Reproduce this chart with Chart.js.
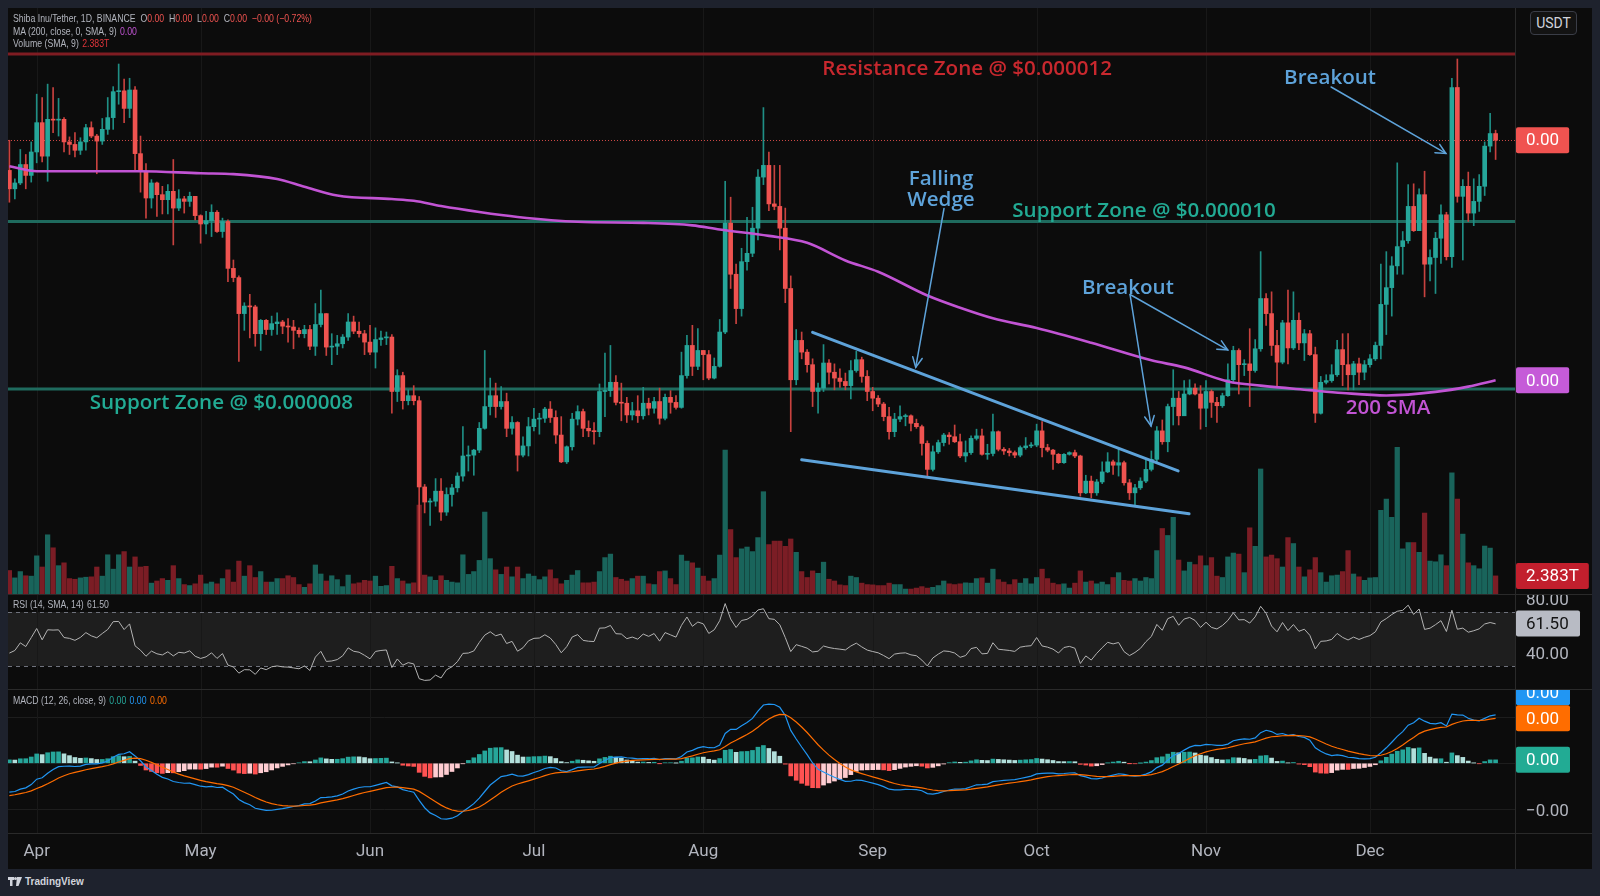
<!DOCTYPE html>
<html>
<head>
<meta charset="utf-8">
<title>Shiba Inu / Tether 1D</title>
<script src="https://cdn.jsdelivr.net/npm/chart.js@4.4.1/dist/chart.umd.min.js"></script>
<style>
  html, body { margin:0; padding:0; width:1600px; height:896px; overflow:hidden; background:#1e222d; }
  #panel { position:absolute; left:8px; top:8px; width:1584px; height:861px; background:#0c0c0c; overflow:hidden; }
  canvas { position:absolute; left:0; }
  .sep { position:absolute; left:0; width:1584px; height:1px; background:#2a2a2a; }
  .vsep { position:absolute; top:0; left:1507px; width:1px; height:861px; background:#2a2a2a; }
  .leg { position:absolute; left:5px; font-family:"Liberation Sans","Roboto",sans-serif; font-size:10.5px; color:#b2b5be; white-space:nowrap; line-height:12px; transform:scaleX(0.83); transform-origin:0 50%; }
  .leg .v { margin-left:4px; }
  #usdt { position:absolute; left:1522px; top:3px; width:45px; height:22px; border:1px solid #3a3d47; border-radius:4px; background:#131313; color:#d1d4dc; font:14px "Roboto",sans-serif; text-align:center; line-height:22px; }
  #footer { position:absolute; left:8px; top:876px; color:#d1d4dc; font:bold 10px "Liberation Sans","Roboto",sans-serif; display:flex; align-items:center; gap:3px; }
</style>
</head>
<body>
<div id="panel">
  <canvas id="cMain" width="1584" height="586" style="top:0"></canvas>
  <div class="sep" style="top:586px"></div>
  <canvas id="cRsi" width="1584" height="94" style="top:587px"></canvas>
  <div class="sep" style="top:681px"></div>
  <canvas id="cMacd" width="1584" height="179" style="top:682px"></canvas>
  <div class="sep" style="top:825px"></div>
  <div class="vsep"></div>

  <div class="leg" style="top:4px">Shiba Inu/Tether, 1D, BINANCE&nbsp; O<span style="color:#ef5350">0.00</span>&nbsp; H<span style="color:#ef5350">0.00</span>&nbsp; L<span style="color:#ef5350">0.00</span>&nbsp; C<span style="color:#ef5350">0.00</span>&nbsp; <span style="color:#ef5350">−0.00 (−0.72%)</span></div>
  <div class="leg" style="top:17px">MA (200, close, 0, SMA, 9)<span class="v" style="color:#c254d4">0.00</span></div>
  <div class="leg" style="top:29px">Volume (SMA, 9)<span class="v" style="color:#e0353b">2.383T</span></div>
  <div class="leg" style="top:590px">RSI (14, SMA, 14)<span class="v" id="rsiVal">61.50</span></div>
  <div class="leg" style="top:686px">MACD (12, 26, close, 9)<span class="v" style="color:#26a69a">0.00</span><span class="v" style="color:#2196f3">0.00</span><span class="v" style="color:#ff6d00">0.00</span></div>
  <div id="usdt">USDT</div>
</div>
<div id="footer">
  <svg width="14" height="9" viewBox="0 0 14 9"><rect x="0" y="0" width="6" height="3" fill="#d1d4dc"/><rect x="2" y="0" width="2.5" height="9" fill="#d1d4dc"/><circle cx="7.5" cy="1.6" r="1.5" fill="#d1d4dc"/><polygon points="9,0 14,0 10.5,9 8,9" fill="#d1d4dc"/></svg>
  <span>TradingView</span>
</div>

<script>
// ---------------- DATA (prices in millionths of USDT: 10.0 = $0.000010) ----------------
const firstOpen = 10.61;
const close = [
  10.39, 10.46, 10.68, 10.55, 10.83, 11.18, 10.78, 11.22, 11.21, 11.22,
  10.95, 10.92, 10.85, 10.95, 11.12, 11.02, 10.96, 11.10, 11.24, 11.55,
  11.56, 11.35, 11.57, 10.81, 10.60, 10.28, 10.46, 10.32, 10.26, 10.36,
  10.16, 10.27, 10.24, 10.30, 10.07, 9.97, 10.01, 10.11, 9.88, 10.00,
  9.44, 9.33, 8.90, 8.99, 8.98, 8.66, 8.82, 8.71, 8.78, 8.80,
  8.75, 8.74, 8.70, 8.66, 8.71, 8.51, 8.77, 8.90, 8.50, 8.51,
  8.54, 8.62, 8.80, 8.69, 8.66, 8.56, 8.44, 8.59, 8.61, 8.62,
  7.97, 8.16, 7.86, 7.92, 7.86, 6.83, 6.65, 6.66, 6.78, 6.53,
  6.74, 6.82, 6.96, 7.20, 7.21, 7.27, 7.53, 7.79, 7.92, 7.79,
  7.85, 7.53, 7.60, 7.21, 7.32, 7.55, 7.64, 7.65, 7.76, 7.66,
  7.45, 7.13, 7.31, 7.64, 7.73, 7.53, 7.50, 7.49, 7.97, 7.98,
  8.08, 7.84, 7.83, 7.69, 7.74, 7.68, 7.83, 7.77, 7.85, 7.65,
  7.90, 7.84, 7.78, 8.16, 8.52, 8.27, 8.46, 8.41, 8.13, 8.27,
  8.68, 9.98, 9.37, 8.96, 9.52, 9.62, 9.92, 10.53, 10.67, 10.21,
  10.18, 9.92, 9.20, 8.11, 8.58, 8.44, 8.29, 7.97, 8.01, 8.31,
  8.20, 8.13, 8.09, 8.04, 8.22, 8.35, 8.15, 7.97, 7.89, 7.82,
  7.67, 7.49, 7.64, 7.67, 7.68, 7.59, 7.55, 7.35, 7.04, 7.25,
  7.36, 7.45, 7.43, 7.37, 7.20, 7.24, 7.41, 7.44, 7.22, 7.23,
  7.49, 7.28, 7.26, 7.24, 7.21, 7.30, 7.32, 7.33, 7.50, 7.30,
  7.27, 7.22, 7.12, 7.22, 7.24, 7.20, 6.76, 6.90, 6.76, 6.89,
  7.01, 7.13, 7.09, 7.12, 6.88, 6.76, 6.82, 6.90, 7.04, 7.16,
  7.50, 7.37, 7.79, 7.89, 7.68, 7.94, 8.01, 7.94, 7.77, 7.97,
  7.84, 7.80, 7.92, 8.11, 8.46, 8.29, 8.30, 8.22, 8.48, 9.08,
  8.90, 8.52, 8.32, 8.79, 8.49, 8.82, 8.55, 8.66, 8.41, 7.71,
  8.08, 8.10, 8.17, 8.47, 8.29, 8.17, 8.30, 8.20, 8.29, 8.36,
  8.52, 9.01, 9.21, 9.47, 9.70, 9.77, 10.18, 9.89, 10.32, 9.49,
  9.57, 9.80, 10.08, 9.58, 11.60, 10.30, 10.42, 10.10, 10.24, 10.42,
  10.90, 11.05, 10.97
];
const high = [
  10.97, 10.51, 10.86, 10.80, 10.95, 11.52, 11.48, 11.64, 11.60, 11.47,
  11.24, 11.01, 11.06, 11.00, 11.16, 11.19, 11.04, 11.23, 11.48, 11.61,
  11.88, 11.70, 11.71, 11.61, 11.02, 10.69, 10.50, 10.47, 10.42, 10.44,
  10.74, 10.38, 10.30, 10.35, 10.30, 10.08, 10.12, 10.20, 10.13, 10.04,
  10.02, 9.54, 9.35, 9.03, 9.13, 9.00, 8.83, 8.83, 8.87, 8.91,
  8.82, 8.84, 8.82, 8.73, 8.76, 8.76, 9.02, 9.18, 8.90, 8.66,
  8.64, 8.65, 8.90, 8.87, 8.80, 8.70, 8.76, 8.73, 8.69, 8.68,
  8.65, 8.23, 8.20, 7.99, 8.04, 7.91, 6.86, 6.69, 6.93, 6.93,
  6.82, 6.86, 7.00, 7.55, 7.32, 7.28, 7.60, 8.46, 8.13, 8.07,
  8.03, 7.95, 7.67, 7.61, 7.43, 7.66, 7.77, 7.71, 7.78, 7.85,
  7.74, 7.67, 7.32, 7.71, 7.80, 7.76, 7.62, 7.60, 8.06, 8.43,
  8.52, 8.16, 8.07, 7.90, 7.84, 7.92, 8.02, 7.89, 7.90, 8.01,
  7.94, 7.98, 7.92, 8.44, 8.64, 8.76, 8.72, 8.46, 8.46, 8.37,
  8.83, 10.48, 10.29, 9.49, 9.68, 10.05, 10.17, 10.62, 11.36, 10.83,
  10.67, 10.67, 10.16, 9.35, 8.71, 8.68, 8.47, 8.36, 8.07, 8.53,
  8.35, 8.30, 8.24, 8.19, 8.34, 8.45, 8.38, 8.22, 8.02, 7.92,
  7.84, 7.78, 7.71, 7.80, 7.70, 7.69, 7.64, 7.57, 7.38, 7.32,
  7.39, 7.47, 7.48, 7.57, 7.46, 7.38, 7.44, 7.52, 7.52, 7.34,
  7.70, 7.50, 7.30, 7.29, 7.26, 7.32, 7.42, 7.36, 7.58, 7.61,
  7.34, 7.28, 7.23, 7.23, 7.25, 7.27, 7.21, 6.97, 6.96, 6.92,
  7.13, 7.24, 7.15, 7.29, 7.14, 6.92, 6.86, 6.94, 7.15, 7.26,
  7.55, 7.63, 7.82, 8.23, 7.97, 8.10, 8.11, 8.06, 8.04, 8.10,
  7.99, 7.90, 7.95, 8.30, 8.51, 8.48, 8.35, 8.72, 8.59, 9.64,
  9.14, 9.16, 8.70, 8.82, 9.18, 9.16, 8.91, 8.71, 8.70, 8.50,
  8.15, 8.17, 8.29, 8.58, 8.66, 8.66, 8.33, 8.37, 8.34, 8.41,
  8.56, 9.49, 9.64, 9.58, 10.70, 9.88, 10.44, 10.45, 10.39, 10.60,
  9.66, 9.87, 10.20, 10.11, 11.71, 11.94, 10.50, 10.59, 10.51, 10.56,
  10.95, 11.29, 11.09
];
const low = [
  10.23, 10.27, 10.44, 10.39, 10.47, 10.70, 10.71, 10.48, 11.06, 11.02,
  10.83, 10.80, 10.77, 10.80, 10.85, 11.00, 10.57, 10.92, 11.04, 11.10,
  11.40, 11.18, 11.24, 10.62, 10.35, 10.04, 10.16, 10.06, 10.09, 10.09,
  9.72, 10.13, 10.10, 10.18, 10.02, 9.74, 9.85, 9.82, 9.87, 9.81,
  9.28, 9.28, 8.33, 8.70, 8.61, 8.51, 8.46, 8.65, 8.64, 8.65,
  8.66, 8.56, 8.48, 8.62, 8.61, 8.47, 8.40, 8.74, 8.40, 8.29,
  8.41, 8.49, 8.58, 8.66, 8.62, 8.41, 8.41, 8.25, 8.52, 8.53,
  7.71, 7.85, 7.76, 7.81, 7.81, 5.58, 6.52, 6.37, 6.60, 6.43,
  6.49, 6.60, 6.77, 6.90, 7.02, 6.97, 7.24, 7.52, 7.69, 7.66,
  7.76, 7.43, 7.46, 7.02, 7.19, 7.20, 7.50, 7.46, 7.60, 7.60,
  7.35, 7.12, 7.11, 7.27, 7.57, 7.43, 7.43, 7.34, 7.43, 7.67,
  7.91, 7.81, 7.62, 7.60, 7.63, 7.60, 7.64, 7.69, 7.71, 7.58,
  7.63, 7.71, 7.76, 7.77, 8.13, 8.16, 8.23, 8.11, 8.11, 8.12,
  8.26, 8.66, 9.20, 8.78, 8.87, 9.42, 9.58, 9.78, 10.44, 10.13,
  10.14, 9.66, 9.03, 7.49, 8.05, 8.36, 8.20, 7.79, 7.71, 7.97,
  8.06, 7.99, 8.02, 7.99, 7.88, 8.20, 8.08, 7.86, 7.74, 7.79,
  7.62, 7.40, 7.43, 7.61, 7.56, 7.50, 7.53, 7.21, 6.96, 7.02,
  7.23, 7.32, 7.34, 7.36, 7.18, 7.13, 7.22, 7.39, 7.21, 7.16,
  7.20, 7.26, 7.22, 7.20, 7.18, 7.19, 7.28, 7.30, 7.31, 7.19,
  7.25, 7.04, 7.11, 7.11, 7.21, 7.18, 6.72, 6.75, 6.70, 6.73,
  6.87, 7.00, 6.98, 6.96, 6.85, 6.68, 6.61, 6.80, 6.88, 7.02,
  7.11, 7.34, 7.25, 7.57, 7.57, 7.68, 7.93, 7.93, 7.52, 7.55,
  7.66, 7.60, 7.78, 7.91, 8.08, 7.94, 8.16, 7.79, 8.20, 8.45,
  8.76, 8.40, 8.02, 8.30, 8.30, 8.47, 8.47, 8.34, 8.40, 7.60,
  7.70, 8.06, 8.08, 8.15, 8.04, 7.99, 7.99, 8.05, 8.11, 8.26,
  8.34, 8.36, 8.65, 8.87, 9.37, 9.37, 9.74, 9.88, 9.89, 9.10,
  9.29, 9.14, 9.50, 9.54, 9.45, 10.23, 9.54, 10.00, 9.95, 10.12,
  10.31, 10.83, 10.74
];
// volume in trillions of SHIB
const volume = [
  3.09, 2.12, 2.95, 2.40, 2.35, 5.02, 3.55, 7.79, 6.08, 3.73,
  4.10, 2.03, 1.94, 2.12, 2.21, 2.26, 3.55, 2.35, 5.16, 3.27,
  5.16, 5.58, 3.55, 4.88, 3.55, 3.64, 1.43, 1.71, 2.03, 1.80,
  3.73, 2.03, 1.24, 1.11, 1.34, 2.49, 1.34, 1.57, 1.34, 2.03,
  3.18, 1.57, 4.33, 2.35, 3.73, 2.17, 2.95, 1.57, 1.57, 2.03,
  2.03, 2.40, 2.17, 1.24, 0.88, 1.34, 3.82, 2.63, 1.71, 2.40,
  1.89, 0.97, 2.49, 1.34, 1.47, 1.80, 1.71, 2.35, 1.01, 1.11,
  3.64, 2.03, 1.71, 1.34, 1.47, 11.70, 2.49, 2.26, 1.80, 2.40,
  1.80, 1.57, 1.47, 5.16, 2.58, 2.95, 4.42, 10.78, 4.65, 3.18,
  2.58, 3.55, 2.26, 3.55, 2.03, 2.63, 2.35, 1.89, 2.26, 3.18,
  2.03, 1.34, 1.80, 2.49, 3.09, 1.47, 1.47, 1.57, 2.95, 4.79,
  5.25, 2.17, 1.94, 1.71, 2.03, 2.35, 2.35, 1.34, 1.24, 2.95,
  3.04, 2.03, 1.24, 5.12, 4.33, 4.10, 3.41, 2.35, 1.71, 2.03,
  5.12, 18.94, 8.48, 4.79, 5.94, 6.18, 5.58, 7.42, 13.46, 6.50,
  6.96, 6.96, 6.27, 7.24, 5.48, 2.95, 2.17, 3.04, 2.72, 4.19,
  1.94, 1.71, 1.20, 1.11, 2.35, 2.17, 1.43, 1.24, 1.20, 1.11,
  1.11, 1.43, 1.24, 1.24, 0.65, 0.65, 0.78, 0.97, 0.78, 0.88,
  1.11, 1.71, 1.34, 1.24, 1.34, 1.47, 1.43, 2.03, 2.12, 1.43,
  3.27, 1.89, 1.57, 1.24, 1.89, 1.43, 2.03, 1.34, 2.17, 3.27,
  2.03, 1.43, 1.24, 1.34, 0.78, 1.43, 3.04, 1.57, 1.71, 1.34,
  1.57, 1.24, 2.17, 2.81, 1.80, 1.71, 2.03, 1.71, 2.17, 2.03,
  5.71, 8.62, 7.70, 10.09, 4.47, 3.04, 4.19, 3.87, 5.02, 3.73,
  4.79, 2.35, 2.17, 4.88, 5.39, 5.25, 2.81, 8.71, 6.27, 16.45,
  4.88, 5.12, 4.65, 3.55, 7.42, 6.64, 3.55, 2.26, 3.18, 4.79,
  2.81, 1.57, 2.40, 2.49, 2.95, 5.71, 2.63, 2.26, 1.80, 2.12,
  2.17, 11.01, 12.49, 10.09, 19.31, 5.94, 6.77, 6.77, 5.48, 10.65,
  4.33, 4.24, 5.16, 3.73, 15.94, 12.49, 7.88, 4.10, 3.73, 3.32,
  6.31, 6.04, 2.383
];
// 200-day SMA: [bar index, value]
const ma200 = [
  [0,10.66],[5,10.60],[17,10.60],[24,10.60],[35,10.575],[41,10.565],[49,10.507],[54,10.415],
  [60,10.31],[70,10.268],[74,10.247],[79,10.184],[86,10.113],[93,10.054],[104,9.996],[116,9.983],
  [125,9.954],[130,9.904],[139,9.828],[146,9.745],[153,9.535],[159,9.40],[168,9.116],[174,8.97],
  [180,8.844],[188,8.727],[198,8.551],[209,8.342],[215,8.258],[223,8.09],[229,8.04],[238,7.986],
  [244,7.952],[252,7.923],[261,7.965],[267,8.028],[272,8.103]
];
// bar index of the first day of each month (bar 0 = 27 Mar 2023)
const monthIdx = [5, 35, 66, 96, 127, 158, 188, 219, 249];
const monthLabels = ['Apr', 'May', 'Jun', 'Jul', 'Aug', 'Sep', 'Oct', 'Nov', 'Dec'];
// indicator state before the first visible bar
const rsiSeed = [0.07, 0.09];          // avg gain, avg loss
const macdSeed = [10.72, 11.03, -0.36]; // EMA12, EMA26, signal
const rsiLast = 61.50;
// drawn annotations, in (bar index, price) units
const zoneLevels = [12, 10, 8];
const wedgeUpper = [[147.0, 8.676], [213.9, 7.022]];
const wedgeLower = [[145.0, 7.156], [215.9, 6.511]];
const arrows = [
  [[171.05, 10.155], [165.87, 8.258]],
  [[205.1, 9.128], [208.94, 7.558]],
  [[205.1, 9.128], [222.97, 8.467]],
  [[241.9, 11.606], [262.9, 10.812]]
];
const notes = [
  {t:'Resistance Zone @ $0.000012', x:175.3, y:11.845, c:'#c8282e'},
  {t:'Support Zone @ $0.000010', x:207.65, y:10.149, c:'#22ab94'},
  {t:'Support Zone @ $0.000008', x:38.8, y:7.857, c:'#22ab94'},
  {t:'Falling', x:170.5, y:10.531, c:'#5ea3da'},
  {t:'Wedge', x:170.5, y:10.281, c:'#5ea3da'},
  {t:'Breakout', x:204.7, y:9.23, c:'#5ea3da'},
  {t:'Breakout', x:241.7, y:11.731, c:'#5ea3da'},
  {t:'200 SMA', x:252.3, y:7.797, c:'#c254d4'}
];

// ---------------- layout constants ----------------
const X_MIN = -0.2526, X_MAX = 275.55;
const Y_MIN = 5.552, Y_MAX = 12.549;
const VOL_MAX = 77.1;
const RSI_MIN = 12.96, RSI_MAX = 82.59;
const MACD_MIN = -0.758, MACD_MAX = 0.797;
const AXIS_W = 77;
const FONT = '"Roboto","Noto Sans",sans-serif';

// ---------------- derived series ----------------
const open = close.map((c, i) => i === 0 ? firstOpen : close[i - 1]);
const isUp = close.map((c, i) => c >= open[i]);

const rsi = [];
(function () {
  let g = rsiSeed[0], l = rsiSeed[1], prev = firstOpen;
  close.forEach(c => {
    const d = c - prev; prev = c;
    g = (g * 13 + Math.max(d, 0)) / 14;
    l = (l * 13 + Math.max(-d, 0)) / 14;
    rsi.push(100 - 100 / (1 + g / l));
  });
})();
const macd = [], signal = [], hist = [];
(function () {
  let ef = macdSeed[0], es = macdSeed[1], sg = macdSeed[2];
  close.forEach(c => {
    ef += (2 / 13) * (c - ef);
    es += (2 / 27) * (c - es);
    const m = ef - es;
    sg += (2 / 10) * (m - sg);
    macd.push(m); signal.push(sg); hist.push(m - sg);
  });
})();
const histColors = hist.map((h, i) => {
  const p = i ? hist[i - 1] : h;
  if (h >= 0) return h >= p ? '#26a69a' : '#b2dfdb';
  return h < p ? '#ff5252' : '#ffcdd2';
});

// ---------------- helpers ----------------
const fmtPrice = v => (v * 1e-6).toFixed(2).replace('-', '−');
function noPad(s) { s.paddingTop = 0; s.paddingBottom = 0; s.paddingLeft = 0; s.paddingRight = 0; }
function xScale(display) {
  return { type: 'linear', min: X_MIN, max: X_MAX, display: display, offset: false, afterFit: noPad };
}
function rightAxis(extra) {
  return Object.assign({
    position: 'right',
    afterFit: s => { s.width = AXIS_W; noPad(s); },
    grid: { display: false, drawTicks: false },
    border: { display: false }
  }, extra);
}
function monthGrid(chart, ctx) {
  const a = chart.chartArea, sx = chart.scales.x;
  ctx.save();
  ctx.strokeStyle = '#181818';
  ctx.lineWidth = 1;
  monthIdx.forEach(m => {
    const x = Math.round(sx.getPixelForValue(m)) + 0.5;
    ctx.beginPath(); ctx.moveTo(x, a.top); ctx.lineTo(x, a.bottom); ctx.stroke();
  });
  ctx.restore();
}
function box(ctx, x, y, text, bg, fg, minW) {
  ctx.save();
  ctx.font = '17px ' + FONT;
  const w = Math.max(minW || 0, ctx.measureText(text).width + 20);
  const h = 26;
  ctx.fillStyle = bg;
  ctx.beginPath();
  if (ctx.roundRect) ctx.roundRect(x, y - h / 2, w, h, 2); else ctx.rect(x, y - h / 2, w, h);
  ctx.fill();
  ctx.fillStyle = fg;
  ctx.textBaseline = 'middle';
  ctx.textAlign = 'left';
  ctx.fillText(text, x + 10, y + 1);
  ctx.restore();
}
function arrowHead(ctx, x1, y1, x2, y2) {
  const ang = Math.atan2(y2 - y1, x2 - x1), L = 11, s = 0.45;
  ctx.beginPath();
  ctx.moveTo(x2 - L * Math.cos(ang - s), y2 - L * Math.sin(ang - s));
  ctx.lineTo(x2, y2);
  ctx.lineTo(x2 - L * Math.cos(ang + s), y2 - L * Math.sin(ang + s));
  ctx.stroke();
}

const common = {
  responsive: false, animation: false, devicePixelRatio: 1,
  layout: { padding: 0, autoPadding: false },
  plugins: { legend: { display: false }, tooltip: { enabled: false } },
  events: []
};

// ---------------- main pane ----------------
const mainPlugin = {
  id: 'mainOverlay',
  beforeDatasetsDraw(chart) {
    const ctx = chart.ctx, a = chart.chartArea, sy = chart.scales.y;
    monthGrid(chart, ctx);
    ctx.save();
    zoneLevels.forEach((lv, k) => {
      const y = sy.getPixelForValue(lv);
      ctx.strokeStyle = k === 0 ? '#7f1c22' : '#1f6b5e';
      ctx.lineWidth = 3;
      ctx.beginPath(); ctx.moveTo(a.left, y); ctx.lineTo(a.right, y); ctx.stroke();
    });
    const yl = Math.round(sy.getPixelForValue(close[close.length - 1])) + 0.5;
    ctx.strokeStyle = 'rgba(239,83,80,0.85)';
    ctx.lineWidth = 1;
    ctx.setLineDash([1, 2]);
    ctx.beginPath(); ctx.moveTo(a.left, yl); ctx.lineTo(a.right, yl); ctx.stroke();
    ctx.restore();
  },
  afterDatasetsDraw(chart) {
    const ctx = chart.ctx, a = chart.chartArea, sx = chart.scales.x, sy = chart.scales.y, sv = chart.scales.yv;
    const P = ([i, p]) => [sx.getPixelForValue(i), sy.getPixelForValue(p)];
    ctx.save();
    ctx.beginPath(); ctx.rect(a.left, a.top, a.right - a.left, a.bottom - a.top); ctx.clip();
    ctx.strokeStyle = '#5ea3da';
    ctx.lineCap = 'round';
    ctx.lineWidth = 3;
    [wedgeUpper, wedgeLower].forEach(ln => {
      const p1 = P(ln[0]), p2 = P(ln[1]);
      ctx.beginPath(); ctx.moveTo(p1[0], p1[1]); ctx.lineTo(p2[0], p2[1]); ctx.stroke();
    });
    ctx.lineWidth = 1.5;
    arrows.forEach(ar => {
      const p1 = P(ar[0]), p2 = P(ar[1]);
      ctx.beginPath(); ctx.moveTo(p1[0], p1[1]); ctx.lineTo(p2[0], p2[1]); ctx.stroke();
      arrowHead(ctx, p1[0], p1[1], p2[0], p2[1]);
    });
    ctx.font = '600 20.6px "Open Sans","Noto Sans",sans-serif';
    ctx.textAlign = 'center';
    ctx.textBaseline = 'middle';
    notes.forEach(n => {
      const p = P([n.x, n.y]);
      ctx.fillStyle = n.c;
      ctx.fillText(n.t, p[0], p[1] + 2);
    });
    ctx.restore();
    // right-axis value labels
    const bx = a.right + 1;
    box(ctx, bx, sy.getPixelForValue(close[close.length - 1]), fmtPrice(close[close.length - 1]), '#f05350', '#ffffff');
    box(ctx, bx, sy.getPixelForValue(ma200[ma200.length - 1][1]), fmtPrice(ma200[ma200.length - 1][1]), '#c55bd8', '#ffffff');
    box(ctx, bx, sv.getPixelForValue(volume[volume.length - 1]), volume[volume.length - 1].toFixed(3) + 'T', '#c21f2d', '#ffffff');
  }
};

new Chart(document.getElementById('cMain'), {
  type: 'bar',
  data: {
    datasets: [
      { type: 'line', label: 'MA 200', data: ma200.map(([x, y]) => ({ x, y })), yAxisID: 'y',
        borderColor: '#c254d4', borderWidth: 2.6, pointRadius: 0, cubicInterpolationMode: 'monotone', order: 0 },
      { label: 'body', data: close.map((c, i) => ({ x: i, y: [open[i], c] })), yAxisID: 'y',
        backgroundColor: isUp.map(u => u ? '#26a69a' : '#ef5350'), barThickness: 4, minBarLength: 1, grouped: false, order: 1 },
      { label: 'wick', data: close.map((c, i) => ({ x: i, y: [low[i], high[i]] })), yAxisID: 'y',
        backgroundColor: isUp.map(u => u ? '#1f8f85' : '#c8423f'), barThickness: 1, grouped: false, order: 2 },
      { label: 'volume', data: volume.map((v, i) => ({ x: i, y: v })), yAxisID: 'yv',
        backgroundColor: isUp.map(u => u ? '#19645b' : '#7b1d25'), barThickness: 4.6, grouped: false, order: 3 }
    ]
  },
  options: Object.assign({}, common, {
    scales: {
      x: xScale(false),
      y: rightAxis({ min: Y_MIN, max: Y_MAX, ticks: { display: false } }),
      yv: { position: 'right', min: 0, max: VOL_MAX, display: false }
    }
  }),
  plugins: [mainPlugin]
});

// ---------------- RSI pane ----------------
const rsiPlugin = {
  id: 'rsiOverlay',
  beforeDatasetsDraw(chart) {
    const ctx = chart.ctx, a = chart.chartArea, sy = chart.scales.y;
    const y70 = sy.getPixelForValue(70), y30 = sy.getPixelForValue(30);
    ctx.save();
    ctx.fillStyle = 'rgba(255,255,255,0.075)';
    ctx.fillRect(a.left, y70, a.right - a.left, y30 - y70);
    ctx.restore();
    monthGrid(chart, ctx);
    ctx.save();
    ctx.strokeStyle = '#6f727c';
    ctx.lineWidth = 1;
    ctx.setLineDash([4, 4]);
    [y70, y30].forEach(y => {
      const yy = Math.round(y) + 0.5;
      ctx.beginPath(); ctx.moveTo(a.left, yy); ctx.lineTo(a.right, yy); ctx.stroke();
    });
    ctx.restore();
  },
  afterDatasetsDraw(chart) {
    const a = chart.chartArea;
    box(chart.ctx, a.right + 1, chart.scales.y.getPixelForValue(rsiLast), rsiLast.toFixed(2), '#b8bbc4', '#131313', 64);
  }
};
new Chart(document.getElementById('cRsi'), {
  type: 'line',
  data: { datasets: [{ label: 'RSI', data: rsi.map((v, i) => ({ x: i, y: v })), borderColor: '#b4b4b4', borderWidth: 1, pointRadius: 0, tension: 0 }] },
  options: Object.assign({}, common, {
    scales: {
      x: xScale(false),
      y: rightAxis({
        min: RSI_MIN, max: RSI_MAX,
        afterBuildTicks: s => { s.ticks = [{ value: 40 }, { value: 80 }]; },
        ticks: { color: '#b2b5be', font: { size: 17, family: FONT }, padding: 11, labelOffset: 2, callback: v => v.toFixed(2) }
      })
    }
  }),
  plugins: [rsiPlugin]
});

// ---------------- MACD pane + time axis ----------------
const macdPlugin = {
  id: 'macdOverlay',
  beforeDatasetsDraw(chart) { monthGrid(chart, chart.ctx); },
  afterDatasetsDraw(chart) {
    const a = chart.chartArea, sy = chart.scales.y, n = close.length - 1;
    const labels = [
      { v: macd[n], bg: '#2196f3' },
      { v: signal[n], bg: '#ff6d00' },
      { v: hist[n], bg: '#22ab94' }
    ].map(o => Object.assign(o, { y: sy.getPixelForValue(o.v) })).sort((p, q) => p.y - q.y);
    for (let i = labels.length - 2; i >= 0; i--) {
      if (labels[i].y > labels[i + 1].y - 26) labels[i].y = labels[i + 1].y - 26;
    }
    labels.forEach(o => box(chart.ctx, a.right + 1, o.y, fmtPrice(o.v), o.bg, '#ffffff', 54));
  }
};
new Chart(document.getElementById('cMacd'), {
  type: 'bar',
  data: {
    datasets: [
      { type: 'line', label: 'Signal', data: signal.map((v, i) => ({ x: i, y: v })), borderColor: '#ff6d00', borderWidth: 1.2, pointRadius: 0, order: 0 },
      { type: 'line', label: 'MACD', data: macd.map((v, i) => ({ x: i, y: v })), borderColor: '#2196f3', borderWidth: 1.2, pointRadius: 0, order: 1 },
      { label: 'Histogram', data: hist.map((v, i) => ({ x: i, y: v })), backgroundColor: histColors, barThickness: 4, grouped: false, order: 2 }
    ]
  },
  options: Object.assign({}, common, {
    scales: {
      x: Object.assign(xScale(true), {
        position: 'bottom',
        afterFit: s => { s.height = 36; noPad(s); },
        afterBuildTicks: s => { s.ticks = monthIdx.map(v => ({ value: v })); },
        grid: { display: false, drawTicks: false },
        border: { display: false },
        ticks: { color: '#b2b5be', font: { size: 17, family: FONT }, padding: 9, autoSkip: false, maxRotation: 0,
          callback: v => monthLabels[monthIdx.indexOf(v)] }
      }),
      y: rightAxis({
        min: MACD_MIN, max: MACD_MAX,
        afterBuildTicks: s => { s.ticks = [{ value: -0.5 }, { value: 0 }, { value: 0.5 }]; },
        grid: { display: true, drawTicks: false, color: '#1d1d1d' },
        ticks: { color: '#b2b5be', font: { size: 17, family: FONT }, padding: 11, labelOffset: 2, callback: v => fmtPrice(v) }
      })
    }
  }),
  plugins: [macdPlugin]
});
</script>
</body>
</html>
